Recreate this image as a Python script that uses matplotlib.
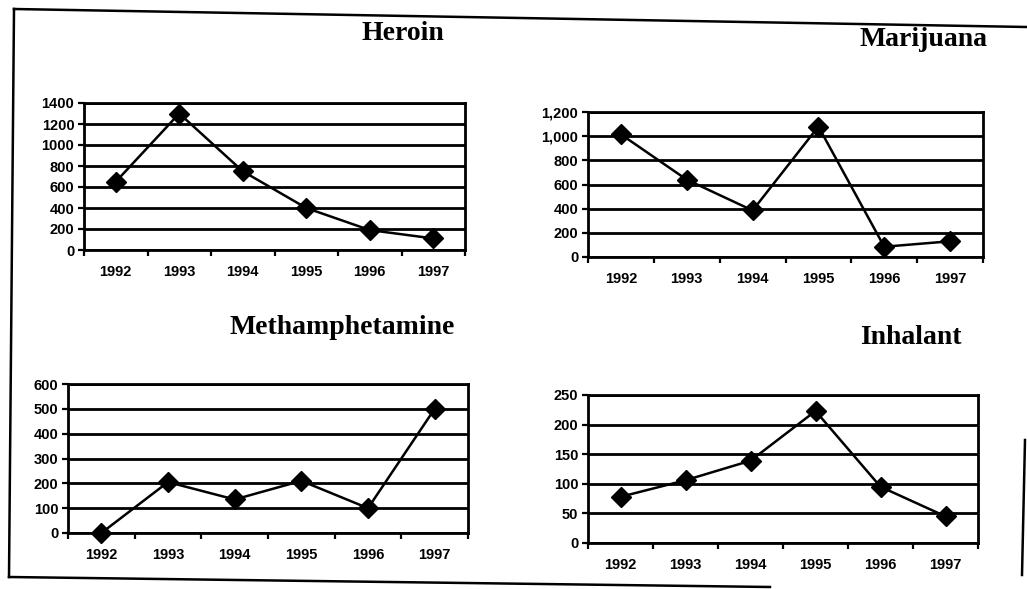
import matplotlib.pyplot as plt
from matplotlib.lines import Line2D

# Data
years = ['1992', '1993', '1994', '1995', '1996', '1997']
heroin = [650, 1300, 750, 400, 190, 110]
marijuana = [1015, 640, 385, 1080, 85, 130]
meth = [0, 205, 135, 210, 100, 500]
inhalant = [78, 106, 139, 223, 95, 45]

W, H = 1027, 589
fig = plt.figure(figsize=(W / 100, H / 100), dpi=100)

label_font = dict(family='Liberation Sans', weight='bold', size=10.5)
title_font = dict(family='Liberation Serif', weight='bold', size=20)


def box(x0, y0, x1, y1):
    # pixel box -> figure fraction
    return [x0 / W, 1 - y1 / H, (x1 - x0) / W, (y1 - y0) / H]


def panel(rect, values, ymax, step, comma=False):
    ax = fig.add_axes(box(*rect))
    x = list(range(len(years)))
    ax.plot(x, values, color='black', lw=1.8, marker='D', ms=10,
            clip_on=False, zorder=5)
    ax.set_xlim(-0.5, len(years) - 0.5)
    ax.set_ylim(0, ymax)

    yt = list(range(0, ymax + 1, step))
    ax.set_yticks(yt)
    if comma:
        ax.set_yticklabels(['{:,}'.format(v) for v in yt], **label_font)
    else:
        ax.set_yticklabels([str(v) for v in yt], **label_font)
    ax.set_xticks(x)
    ax.set_xticklabels(years, **label_font)
    ax.set_xticks([i - 0.5 for i in range(len(years) + 1)], minor=True)

    ax.tick_params(axis='x', which='major', length=0, pad=11)
    ax.tick_params(axis='x', which='minor', length=4, width=1.6)
    ax.tick_params(axis='y', length=4, width=1.6, pad=3)
    ax.grid(axis='y', color='black', lw=2.0)
    ax.set_axisbelow(True)
    for s in ax.spines.values():
        s.set_linewidth(2.0)
    return ax


#######################################################

panel((84, 103, 465, 250), heroin, 1400, 200)
panel((588, 112, 983, 257), marijuana, 1200, 200, comma=True)
panel((68, 384, 468, 533), meth, 600, 100)
panel((588, 395, 978, 543), inhalant, 250, 50)

fig.text(403 / W, 1 - 33 / H, 'Heroin', ha='center', va='center', **title_font)
fig.text(923 / W, 1 - 40 / H, 'Marijuana', ha='center', va='center', **title_font)
fig.text(342 / W, 1 - 327 / H, 'Methamphetamine', ha='center', va='center', **title_font)
fig.text(911 / W, 1 - 338 / H, 'Inhalant', ha='center', va='center', **title_font)

# frame around the page (slightly skewed like the scan)
frame = [
    ((14, 9), (1027, 27)),
    ((14, 9), (9, 577)),
    ((9, 577), (770, 587)),
    ((1025, 440), (1022, 575)),
]
for (xa, ya), (xb, yb) in frame:
    fig.add_artist(Line2D([xa / W, xb / W], [1 - ya / H, 1 - yb / H],
                          transform=fig.transFigure, color='black', lw=1.8))

fig.savefig('out.png', dpi=100)
